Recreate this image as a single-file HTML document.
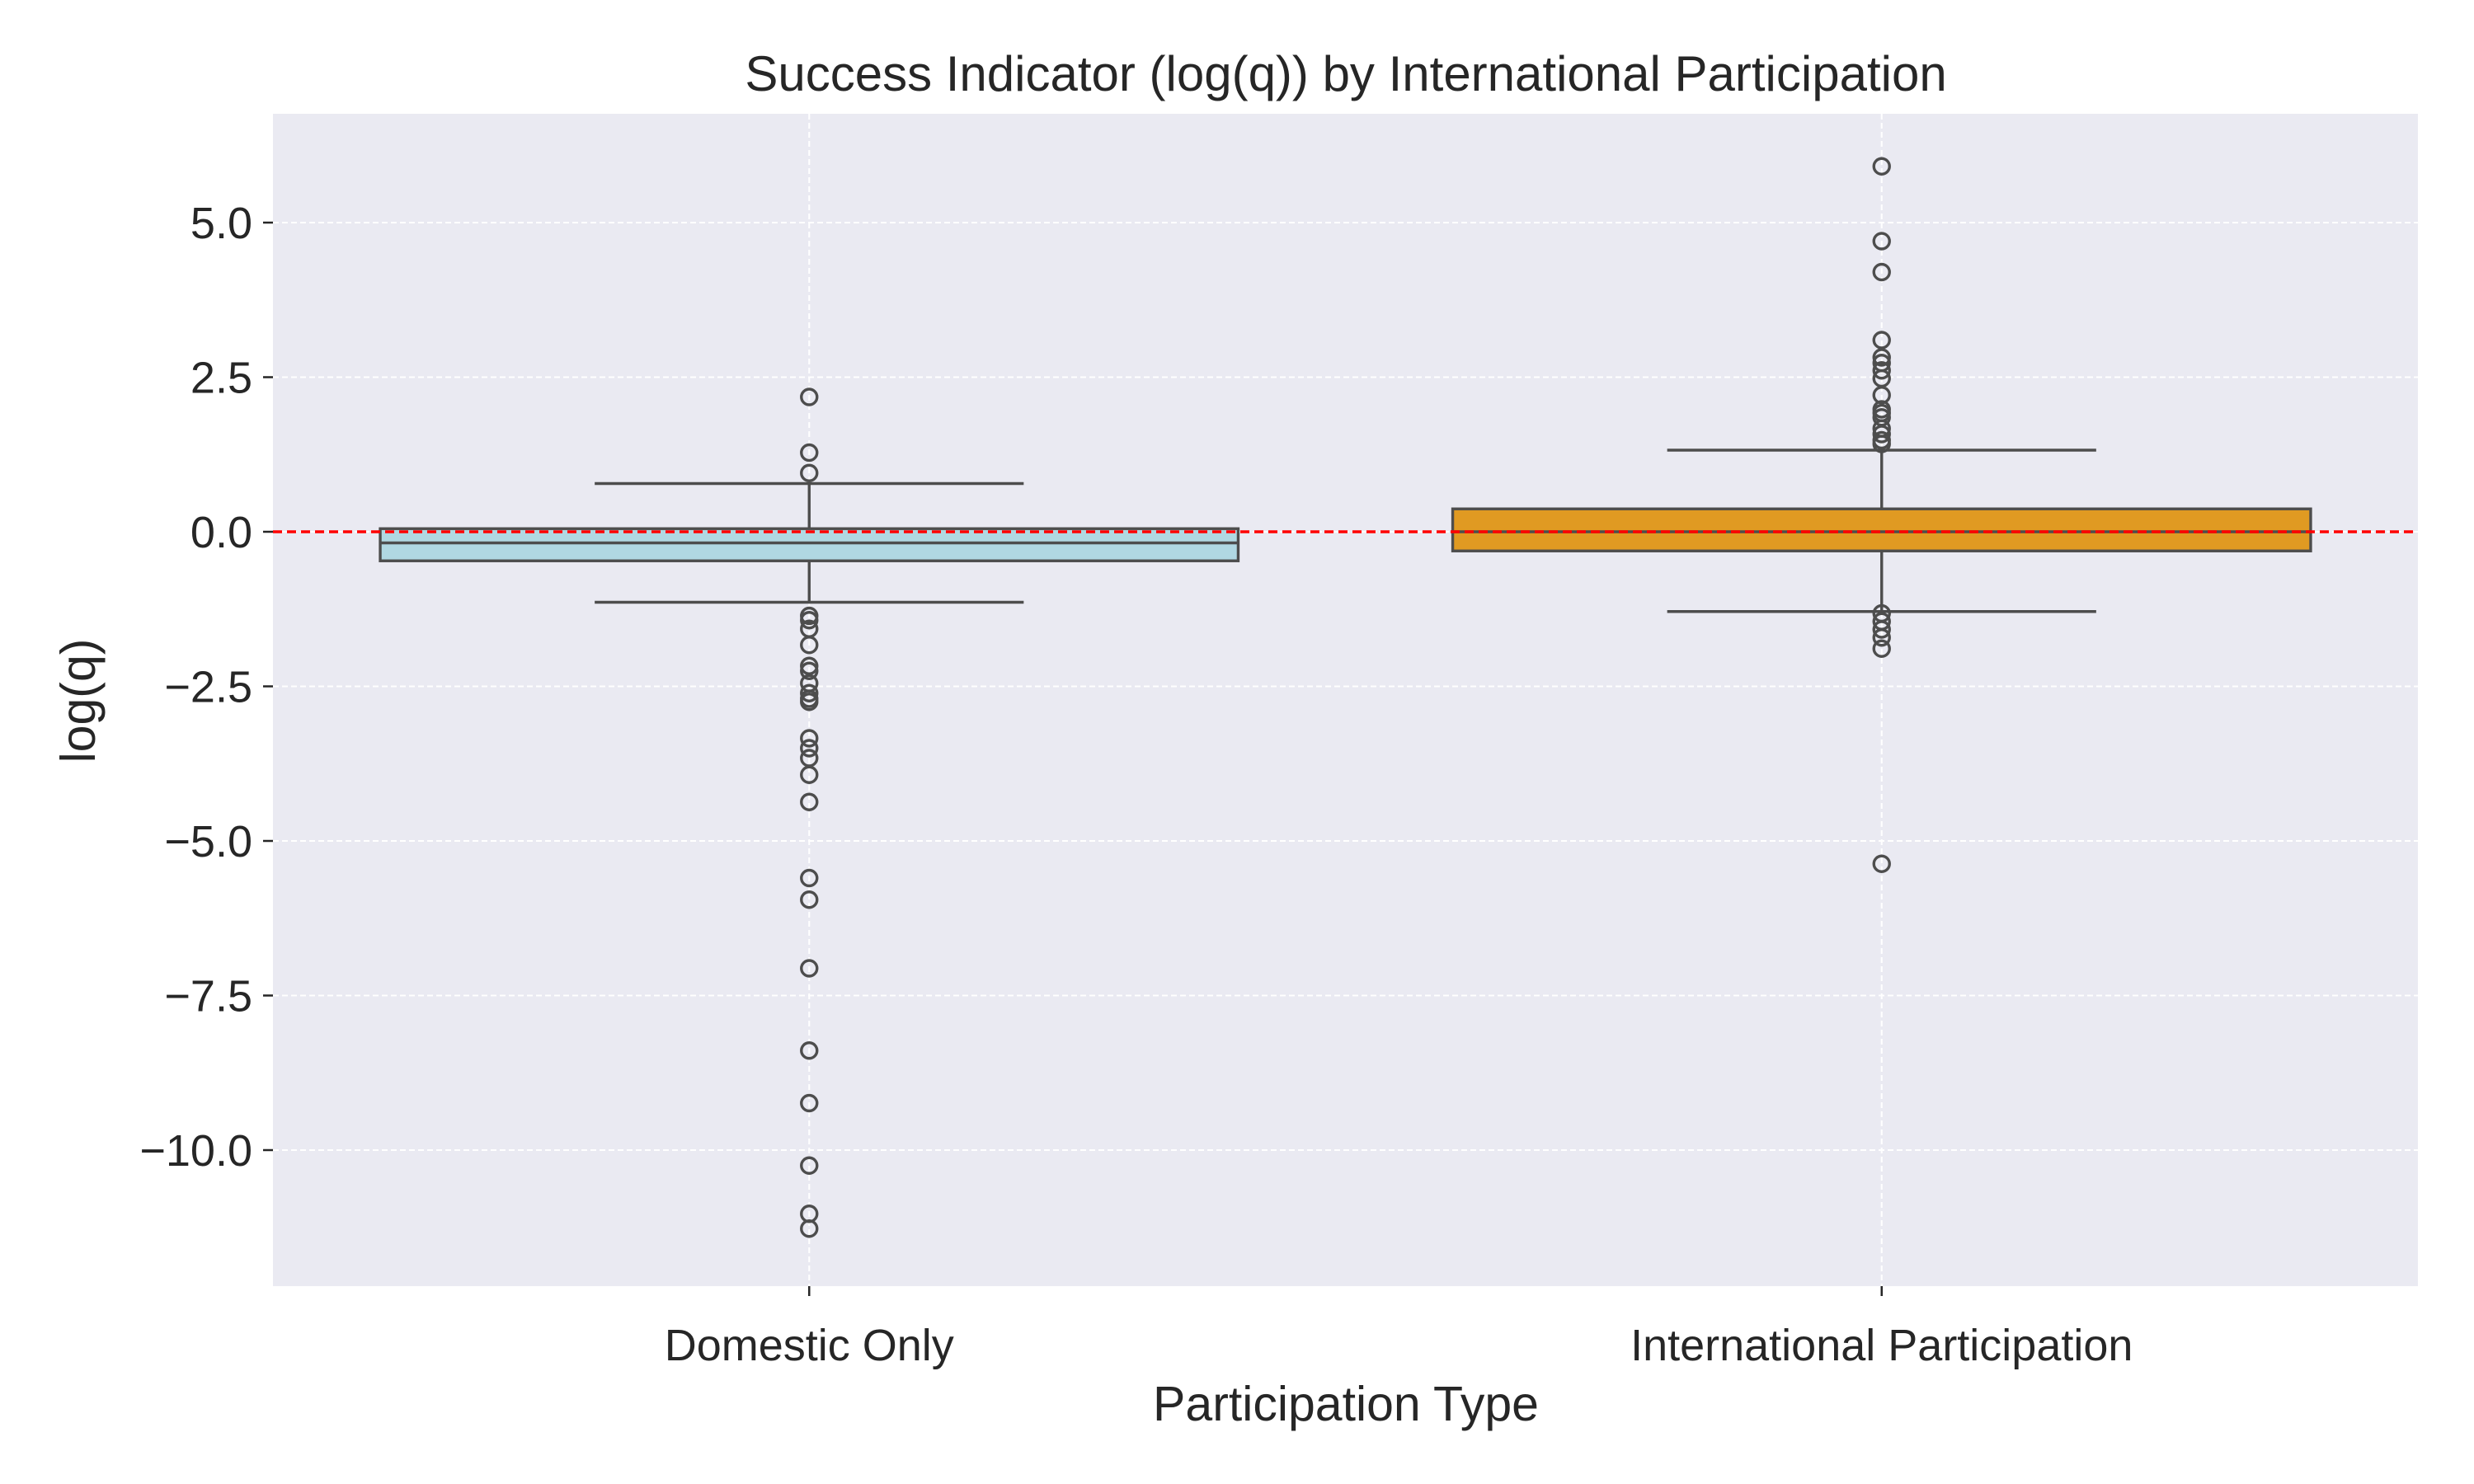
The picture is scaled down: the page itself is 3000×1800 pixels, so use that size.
<!DOCTYPE html>
<html><head><meta charset="utf-8"><style>
html,body{margin:0;padding:0;background:#fff;}
svg{display:block;font-family:"Liberation Sans",Arial,sans-serif;}
</style></head><body>
<svg id="chart" width="3000" height="1800" viewBox="0 0 3000 1800" xmlns="http://www.w3.org/2000/svg">
<rect x="331" y="138" width="2601" height="1422" fill="#eaeaf2"/>
<g id="grid"></g><g id="marks"></g><g id="axes"></g>
<text x="1632" y="110" text-anchor="middle" font-size="60" fill="#262626">Success Indicator (log(q)) by International Participation</text>
<text x="1632" y="1723" text-anchor="middle" font-size="59" fill="#262626">Participation Type</text>
<text x="0" y="0" transform="translate(115,850) rotate(-90)" text-anchor="middle" font-size="59" fill="#262626">log(q)</text>
</svg>
<script>
const categories = ["Domestic Only", "International Participation"];
const q1 = [-0.47, -0.31];
const medians = [-0.18, 0.0];
const q3 = [0.05, 0.37];
const whiskerLow = [-1.14, -1.29];
const whiskerHigh = [0.78, 1.32];
const outliersDomestic = [2.18,1.28,0.95,-1.36,-1.43,-1.57,-1.83,-2.17,-2.25,-2.45,-2.61,-2.70,-2.75,-3.34,-3.50,-3.66,-3.93,-4.37,-5.6,-5.95,-7.06,-8.39,-9.24,-10.25,-11.03,-11.27];
const outliersInternational = [5.91,4.70,4.20,3.10,2.82,2.73,2.61,2.48,2.21,1.98,1.92,1.85,1.67,1.58,1.48,1.42,-1.32,-1.45,-1.58,-1.71,-1.89,-5.37];
const yTicks = [5.0, 2.5, 0.0, -2.5, -5.0, -7.5, -10.0];
const yTickLabels = ["5.0","2.5","0.0","\u22122.5","\u22125.0","\u22127.5","\u221210.0"];
const refLine = 0;
const fills = ["#b0d8e2", "#e09a22"];

const NS="http://www.w3.org/2000/svg";
const L=331,R=2932,T=138,B=1560,yMin=-12.2,yMax=6.76;
const y=v=>B-(v-yMin)/(yMax-yMin)*(B-T);
const band=(R-L)/categories.length;
const x=i=>L+band*(i+0.5);
function mk(tag,attrs,parent){const e=document.createElementNS(NS,tag);for(const k in attrs)e.setAttribute(k,attrs[k]);parent.appendChild(e);return e;}
const grid=document.getElementById('grid'),marks=document.getElementById('marks'),axes=document.getElementById('axes');
yTicks.forEach((t,i)=>{
  const g=mk('line',{x1:L,x2:R,y1:y(t),y2:y(t),stroke:'#fff','stroke-width':2,'stroke-dasharray':'7,4'},grid);
  
  
  const tk=mk('line',{x1:L-12,x2:L,y1:y(t),y2:y(t),stroke:'#262626','stroke-width':2.5},axes);
  
  
  const tx=mk('text',{x:L-25,y:y(t)+19,'text-anchor':'end','font-size':54,fill:'#262626'},axes);
  tx.textContent=yTickLabels[i];
  
  
});
categories.forEach((c,i)=>{
  const g=mk('line',{x1:x(i),x2:x(i),y1:T,y2:B,stroke:'#fff','stroke-width':2,'stroke-dasharray':'7,4'},grid);
  
  
  const tk=mk('line',{x1:x(i),x2:x(i),y1:B,y2:B+12,stroke:'#262626','stroke-width':2.5},axes);
  
  
  const tx=mk('text',{x:x(i),y:1650,'text-anchor':'middle','font-size':54,fill:'#262626'},axes);
  tx.textContent=c;
  
  
});
const allOut=[outliersDomestic,outliersInternational];
categories.forEach((c,i)=>{
  const cx=x(i),w=band*0.8,cap=band*0.4,st='#4d4d4d',sw=3.4;
  const g=mk('g',{},marks);
  
  
  mk('line',{x1:cx,x2:cx,y1:y(q3[i]),y2:y(whiskerHigh[i]),stroke:st,'stroke-width':sw},g);
  mk('line',{x1:cx,x2:cx,y1:y(q1[i]),y2:y(whiskerLow[i]),stroke:st,'stroke-width':sw},g);
  mk('line',{x1:cx-cap/2,x2:cx+cap/2,y1:y(whiskerHigh[i]),y2:y(whiskerHigh[i]),stroke:st,'stroke-width':sw},g);
  mk('line',{x1:cx-cap/2,x2:cx+cap/2,y1:y(whiskerLow[i]),y2:y(whiskerLow[i]),stroke:st,'stroke-width':sw},g);
  mk('rect',{x:cx-w/2,y:y(q3[i]),width:w,height:y(q1[i])-y(q3[i]),fill:fills[i],stroke:st,'stroke-width':sw},g);
  mk('line',{x1:cx-w/2,x2:cx+w/2,y1:y(medians[i]),y2:y(medians[i]),stroke:st,'stroke-width':sw},g);
  allOut[i].forEach(v=>{
    const o=mk('circle',{cx:cx,cy:y(v),r:9.5,fill:'none',stroke:st,'stroke-width':3.4},marks);
    
    
  });
});
const rl=mk('line',{x1:L,x2:R,y1:y(refLine),y2:y(refLine),stroke:'#ff0000','stroke-width':3.5,'stroke-dasharray':'11,6'},marks);


</script>
</body></html>
